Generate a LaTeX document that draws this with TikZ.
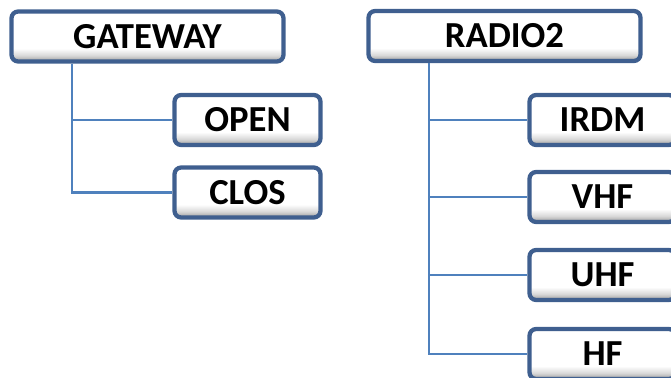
\documentclass[tikz,border=0pt]{standalone}
\usepackage{fontspec}
\setmainfont{Carlito}
\definecolor{marco}{HTML}{3F5F8F}
\definecolor{rama}{HTML}{4F81BD}
\pgfdeclareverticalshading{relieve}{100bp}{color(0bp)=(black!40); color(25bp)=(black!40);
    color(31bp)=(black!15); color(38bp)=(white); color(100bp)=(white)}
\begin{document}
\begin{tikzpicture}[
        x=0.75pt, y=-0.75pt,
        font=\fontsize{27.5}{32}\selectfont\bfseries,
        caja/.style={draw=marco, line width=3.2pt, rounded corners=5pt,
            shading=relieve, minimum height=37.5pt, inner sep=0pt},
        padre/.style={caja, minimum width=204pt},
        hijo/.style={caja, minimum width=109.5pt},
        rama/.style={draw=rama, line width=2.1pt}
    ]
        % Marco
        \useasboundingbox (0,0) rectangle (671,378);

        % Arbol GATEWAY
        \node[padre] (gateway) at (147.5,36.5) {GATEWAY};
        \node[hijo] (open) at (247.5,120) {OPEN};
        \node[hijo] (clos) at (247.5,192.5) {CLOS};
        \coordinate (troncoG) at (72,0);

        \draw[rama] (gateway.south -| troncoG) |- (open.west);
        \draw[rama] (gateway.south -| troncoG) |- (clos.west);

        % Arbol RADIO2
        \node[padre] (radio) at (504.5,36) {RADIO2};
        \node[hijo] (irdm) at (602.5,120) {IRDM};
        \node[hijo] (vhf) at (602.5,197) {VHF};
        \node[hijo] (uhf) at (602.5,275) {UHF};
        \node[hijo] (hf) at (602.5,354) {HF};
        \coordinate (troncoR) at (429,0);

        \foreach \h in {irdm,vhf,uhf,hf}
            \draw[rama] (radio.south -| troncoR) |- (\h.west);

    \end{tikzpicture}
\end{document}
